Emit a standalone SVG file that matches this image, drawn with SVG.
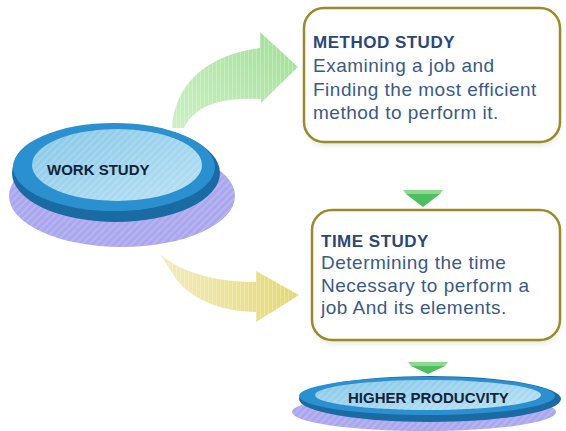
<svg xmlns="http://www.w3.org/2000/svg" width="566" height="431" viewBox="0 0 566 431">
  <style>
    .box { fill: #ffffff; stroke: #9a8a2c; stroke-width: 2.5; }
    .head { font-family: "Liberation Sans", Arial, sans-serif; font-weight: bold; font-size: 17px; letter-spacing: 0.5px; fill: #2b4775; }
    .body { font-family: "Liberation Sans", Arial, sans-serif; font-size: 19px; letter-spacing: 0.5px; fill: #3b5a85; }
    .disc { font-family: "Liberation Sans", Arial, sans-serif; font-weight: bold; fill: #13243a; }
    .base { fill: #aba7ee; }
    .rim { fill: #1a6aa3; }
    .ring { fill: #2b90cf; }
    .face { fill: url(#faceGrad); }
    .hatch { fill: url(#stripes); }
    .tri { fill: #4dbf5f; }
    .triTop { fill: #8fd893; }
  </style>
  <defs>
    <linearGradient id="faceGrad" x1="0" y1="0" x2="1" y2="1">
      <stop offset="0" stop-color="#86c7e8"/>
      <stop offset="1" stop-color="#b9e1f3"/>
    </linearGradient>
    <linearGradient id="greenGrad" x1="0" y1="1" x2="1" y2="0">
      <stop offset="0" stop-color="#cdf0c5"/>
      <stop offset="1" stop-color="#9ee094"/>
    </linearGradient>
    <linearGradient id="yellowGrad" x1="0" y1="0" x2="1" y2="0">
      <stop offset="0" stop-color="#f3ecbc"/>
      <stop offset="1" stop-color="#e5d875"/>
    </linearGradient>
    <pattern id="stripes" width="5" height="5" patternUnits="userSpaceOnUse" patternTransform="rotate(45)">
      <rect x="0" y="0" width="1.6" height="5" fill="#ffffff" fill-opacity="0.18"/>
    </pattern>
    <pattern id="vstripes" width="4" height="4" patternUnits="userSpaceOnUse">
      <rect x="0" y="0" width="1" height="4" fill="#ffffff" fill-opacity="0.25"/>
    </pattern>
    <filter id="soft" x="-10%" y="-10%" width="120%" height="130%">
      <feGaussianBlur stdDeviation="2.5"/>
    </filter>
  </defs>

  <!-- curved connectors -->
  <g id="connectors">
    <path d="M 172,128 C 174,90 200,56 260,48 L 260,32 L 298,67 L 261,103 L 261,99 C 225,97 195,104 184,128 Z" fill="url(#greenGrad)"/>
    <path d="M 172,128 C 174,90 200,56 260,48 L 260,32 L 298,67 L 261,103 L 261,99 C 225,97 195,104 184,128 Z" fill="url(#vstripes)"/>
    <path d="M 160,254 C 180,272 215,282 256,282 L 256,271 L 299,295 L 256,322 L 256,312 C 220,311 193,300 176,279 Z" fill="url(#yellowGrad)"/>
    <path d="M 160,254 C 180,272 215,282 256,282 L 256,271 L 299,295 L 256,322 L 256,312 C 220,311 193,300 176,279 Z" fill="url(#vstripes)"/>
    <!-- small downward pointers -->
    <polygon class="triTop" points="403,190 443,190 440,194 406,194"/>
    <polygon class="tri" points="406,194 440,194 423,207"/>
    <polygon class="triTop" points="408,362 448,362 445,366 411,366"/>
    <polygon class="tri" points="411,366 445,366 428,374"/>
  </g>

  <g id="work-study">
    <ellipse class="base" cx="122" cy="196" rx="113" ry="51"/>
    <ellipse class="hatch" cx="122" cy="196" rx="113" ry="51"/>
    <ellipse class="rim" cx="116" cy="173" rx="104" ry="49"/>
    <ellipse class="ring" cx="114" cy="167" rx="101" ry="44"/>
    <ellipse class="face" cx="117" cy="165" rx="85" ry="36"/>
    <ellipse class="hatch" cx="117" cy="165" rx="85" ry="36"/>
    <text class="disc" x="47" y="175" font-size="15">WORK STUDY</text>
  </g>

  <g id="method-study">
    <rect x="305" y="12" width="255" height="134" rx="20" fill="#d8d8d0" opacity="0.6" filter="url(#soft)"/>
    <rect class="box" x="304" y="8" width="256" height="134" rx="20"/>
    <text class="head" x="313" y="48">METHOD STUDY</text>
    <text class="body" x="313" y="72">Examining a job and</text>
    <text class="body" x="313" y="96">Finding the most efficient</text>
    <text class="body" x="313" y="119">method to perform it.</text>
  </g>

  <g id="time-study">
    <rect x="313" y="214" width="247" height="130" rx="20" fill="#d8d8d0" opacity="0.6" filter="url(#soft)"/>
    <rect class="box" x="312" y="210" width="248" height="130" rx="20"/>
    <text class="head" x="321" y="247">TIME STUDY</text>
    <text class="body" x="321" y="269">Determining the time</text>
    <text class="body" x="321" y="292">Necessary to perform a</text>
    <text class="body" x="321" y="314">job And its elements.</text>
  </g>

  <g id="higher-productivity">
    <ellipse class="base" cx="424" cy="412" rx="132" ry="19"/>
    <ellipse class="hatch" cx="424" cy="412" rx="132" ry="19"/>
    <ellipse class="rim" cx="430" cy="399" rx="131" ry="23"/>
    <ellipse class="ring" cx="427" cy="396" rx="128" ry="19"/>
    <ellipse class="face" cx="428" cy="395" rx="113" ry="15"/>
    <ellipse class="hatch" cx="428" cy="395" rx="113" ry="15"/>
    <text class="disc" x="348" y="403" font-size="15">HIGHER PRODUCVITY</text>
  </g>
</svg>
